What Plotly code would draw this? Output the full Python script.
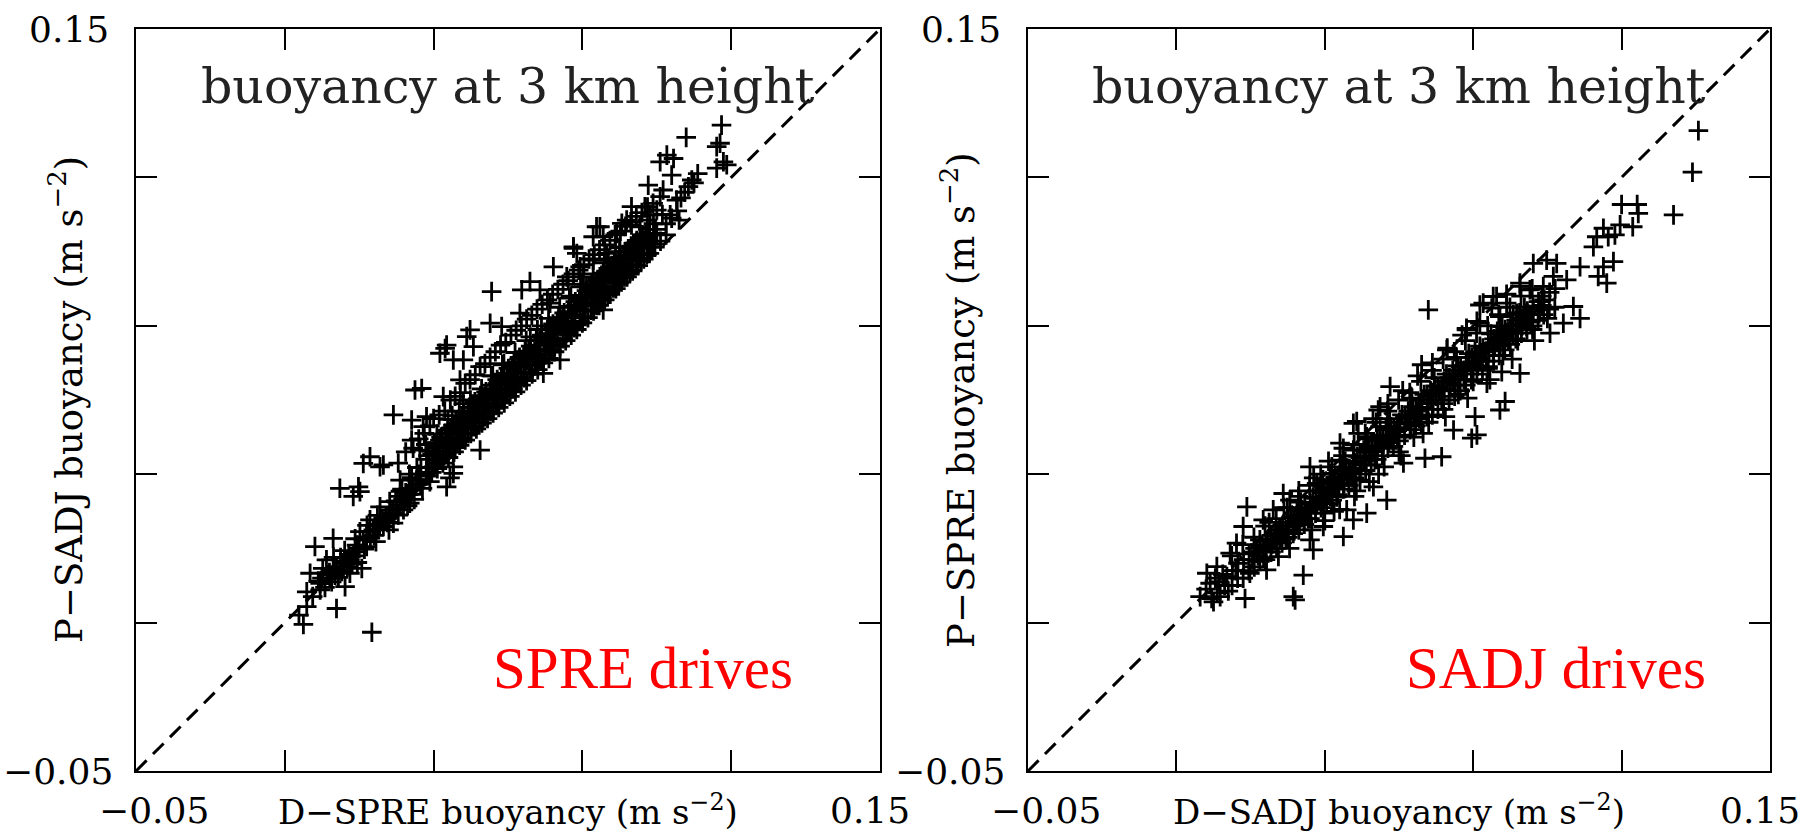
import plotly.graph_objects as go

# ---------------- data ----------------
axis_range = [-0.05, 0.15]          # both axes, both panels
one_to_one = [-0.05, 0.15]          # dashed 1:1 reference line
tick_labels = ["\u22120.05", "0.15"]

# Left panel: x = D-SPRE buoyancy, y = P-SADJ buoyancy
spre_drives_points = [
    (0.0134, -0.0126), (-0.0050, -0.0105), (-0.0062, -0.0080), (-0.0041, -0.0057), (0.0039, -0.0062),
    (-0.0019, 0.0105), (0.0030, 0.0127), (-0.0032, 0.0033), (0.0012, 0.0069), (0.0048, 0.0042),
    (0.0062, -0.0003), (0.0107, 0.0046), (-0.0005, 0.0006), (0.0021, 0.0019), (0.0057, 0.0060),
    (0.0075, 0.0069), (0.0093, 0.0109), (0.0111, 0.0123), (0.0129, 0.0177), (0.0138, 0.0150),
    (0.0165, 0.0159), (0.0192, 0.0168), (0.0156, 0.0212), (0.0219, 0.0204), (0.0048, 0.0262),
    (0.0098, 0.0266), (0.0084, 0.0240), (0.0111, 0.0329), (0.0165, 0.0325), (0.0353, 0.0302),
    (0.0210, 0.0284), (0.0245, 0.0257), (0.0281, 0.0302), (0.0236, 0.0222), (0.0183, 0.0204),
    (-0.0041, -0.0017), (-0.0005, -0.0012), (0.0039, 0.0051), (0.0075, 0.0033), (0.0102, 0.0145),
    (0.0210, 0.0240), (0.0254, 0.0284), (0.0300, 0.0320), (0.0335, 0.0266),
    (0.0020, 0.0035), (0.0035, 0.0028), (0.0050, 0.0075), (0.0068, 0.0050), (0.0085, 0.0080),
    (0.0095, 0.0062), (0.0120, 0.0105), (0.0130, 0.0128), (0.0145, 0.0118), (0.0155, 0.0165),
    (0.0172, 0.0188), (0.0180, 0.0150), (0.0198, 0.0228), (0.0205, 0.0190), (0.0225, 0.0250),
    (0.0230, 0.0215), (0.0248, 0.0232), (0.0260, 0.0300), (0.0270, 0.0262), (0.0290, 0.0280),
    (0.0000, 0.0020), (0.0002, 0.0046), (0.0030, 0.0040), (0.0031, 0.0076), (0.0060, 0.0066),
    (0.0061, 0.0094), (0.0090, 0.0091), (0.0089, 0.0126), (0.0120, 0.0131), (0.0121, 0.0162),
    (0.0150, 0.0151), (0.0149, 0.0189), (0.0180, 0.0181), (0.0182, 0.0226), (0.0210, 0.0216),
    (0.0211, 0.0254), (0.0240, 0.0246), (0.0241, 0.0291), (0.0265, 0.0273), (0.0266, 0.0318),
    (-0.0025, -0.0030), (-0.0010, 0.0012), (0.0008, -0.0005), (0.0015, 0.0028), (0.0026, 0.0010),
    (0.0044, 0.0022), (0.0053, 0.0038), (0.0072, 0.0084), (0.0081, 0.0058), (0.0100, 0.0100),
    (0.0114, 0.0098), (0.0126, 0.0146), (0.0140, 0.0135), (0.0162, 0.0176), (0.0176, 0.0170),
    (0.0190, 0.0196), (0.0200, 0.0208), (0.0218, 0.0232), (0.0234, 0.0262), (0.0252, 0.0270),
    (0.0192, 0.0460), (0.0250, 0.0527), (0.0268, 0.0531), (0.0129, 0.0347), (0.0156, 0.0320),
    (0.0102, 0.0253), (0.0241, 0.0446), (0.0281, 0.0455), (0.0272, 0.0428), (0.0241, 0.0392),
    (0.0263, 0.0365), (0.0344, 0.0290), (0.0425, 0.0365), (0.0353, 0.0320), (0.0335, 0.0648),
    (0.0380, 0.0608), (0.0317, 0.0626), (0.0371, 0.0554), (0.0326, 0.0509), (0.0407, 0.0644),
    (0.0456, 0.0792), (0.0559, 0.0819), (0.0537, 0.0797), (0.0676, 0.0909), (0.0685, 0.0895),
    (0.0622, 0.0859), (0.0738, 0.0967), (0.0806, 0.0976), (0.0756, 0.0940), (0.0452, 0.0707),
    (0.0483, 0.0698), (0.0398, 0.0689), (0.0389, 0.0671), (0.0331, 0.0639), (0.0353, 0.0608),
    (0.0532, 0.0734), (0.0586, 0.0797), (0.0613, 0.0761), (0.0703, 0.0832), (0.0756, 0.0743),
    (0.0640, 0.0608), (0.0595, 0.0572), (0.0819, 0.0850),
    (0.0280, 0.0295), (0.0281, 0.0340), (0.0279, 0.0380), (0.0295, 0.0305), (0.0296, 0.0355),
    (0.0310, 0.0315), (0.0311, 0.0362), (0.0309, 0.0408), (0.0325, 0.0330), (0.0326, 0.0378),
    (0.0340, 0.0345), (0.0341, 0.0398), (0.0339, 0.0448), (0.0355, 0.0360), (0.0356, 0.0412),
    (0.0370, 0.0378), (0.0371, 0.0425), (0.0369, 0.0470), (0.0385, 0.0392), (0.0386, 0.0440),
    (0.0400, 0.0410), (0.0401, 0.0452), (0.0399, 0.0500), (0.0415, 0.0422), (0.0416, 0.0470),
    (0.0430, 0.0438), (0.0431, 0.0482), (0.0429, 0.0530), (0.0445, 0.0450), (0.0446, 0.0500),
    (0.0460, 0.0465), (0.0461, 0.0512), (0.0459, 0.0565), (0.0475, 0.0480), (0.0476, 0.0528),
    (0.0490, 0.0492), (0.0491, 0.0545), (0.0489, 0.0598), (0.0505, 0.0510), (0.0506, 0.0560),
    (0.0520, 0.0522), (0.0521, 0.0572), (0.0519, 0.0628), (0.0535, 0.0540), (0.0536, 0.0590),
    (0.0550, 0.0552), (0.0551, 0.0605), (0.0549, 0.0660), (0.0565, 0.0570), (0.0566, 0.0620),
    (0.0580, 0.0582), (0.0581, 0.0635), (0.0579, 0.0690), (0.0595, 0.0600), (0.0596, 0.0652),
    (0.0610, 0.0612), (0.0611, 0.0665), (0.0609, 0.0720), (0.0625, 0.0630), (0.0626, 0.0680),
    (0.0640, 0.0645), (0.0641, 0.0698), (0.0639, 0.0750), (0.0655, 0.0660), (0.0656, 0.0712),
    (0.0670, 0.0675), (0.0671, 0.0728), (0.0669, 0.0780), (0.0685, 0.0690), (0.0686, 0.0745),
    (0.0700, 0.0708), (0.0701, 0.0760), (0.0699, 0.0812), (0.0715, 0.0722), (0.0716, 0.0775),
    (0.0730, 0.0740), (0.0731, 0.0792), (0.0729, 0.0840), (0.0745, 0.0755), (0.0746, 0.0808),
    (0.0760, 0.0770), (0.0761, 0.0822), (0.0759, 0.0870), (0.0775, 0.0785), (0.0776, 0.0838),
    (0.0790, 0.0800), (0.0791, 0.0852), (0.0789, 0.0900), (0.0805, 0.0818), (0.0806, 0.0868),
    (0.0820, 0.0832), (0.0821, 0.0885), (0.0835, 0.0848), (0.0836, 0.0900), (0.0850, 0.0862),
    (0.0851, 0.0915), (0.0865, 0.0880), (0.0866, 0.0930), (0.0880, 0.0895), (0.0881, 0.0945),
    (0.0895, 0.0912), (0.0896, 0.0960), (0.0910, 0.0928), (0.0925, 0.0945),
    (0.0288, 0.0318), (0.0288, 0.0362), (0.0303, 0.0330), (0.0302, 0.0385), (0.0318, 0.0342),
    (0.0317, 0.0392), (0.0333, 0.0355), (0.0332, 0.0410), (0.0348, 0.0370), (0.0347, 0.0425),
    (0.0363, 0.0382), (0.0362, 0.0438), (0.0378, 0.0398), (0.0377, 0.0452), (0.0393, 0.0410),
    (0.0392, 0.0470), (0.0408, 0.0428), (0.0407, 0.0480), (0.0423, 0.0440), (0.0422, 0.0495),
    (0.0438, 0.0455), (0.0437, 0.0510), (0.0453, 0.0470), (0.0452, 0.0528), (0.0468, 0.0485),
    (0.0467, 0.0540), (0.0483, 0.0500), (0.0482, 0.0558), (0.0498, 0.0515), (0.0497, 0.0572),
    (0.0513, 0.0530), (0.0512, 0.0588), (0.0528, 0.0545), (0.0527, 0.0602), (0.0543, 0.0560),
    (0.0542, 0.0618), (0.0558, 0.0575), (0.0557, 0.0632), (0.0573, 0.0592), (0.0572, 0.0648),
    (0.0588, 0.0605), (0.0587, 0.0662), (0.0603, 0.0622), (0.0602, 0.0678), (0.0618, 0.0635),
    (0.0617, 0.0692), (0.0633, 0.0652), (0.0632, 0.0708), (0.0648, 0.0665), (0.0647, 0.0722),
    (0.0663, 0.0682), (0.0662, 0.0738), (0.0678, 0.0695), (0.0677, 0.0752), (0.0693, 0.0712),
    (0.0692, 0.0768), (0.0708, 0.0725), (0.0707, 0.0782), (0.0723, 0.0742), (0.0722, 0.0798),
    (0.0738, 0.0755), (0.0737, 0.0812), (0.0753, 0.0772), (0.0752, 0.0828), (0.0768, 0.0785),
    (0.0767, 0.0842), (0.0783, 0.0802), (0.0782, 0.0858), (0.0798, 0.0815), (0.0797, 0.0872),
    (0.0813, 0.0832), (0.0812, 0.0888), (0.0828, 0.0845), (0.0827, 0.0902), (0.0843, 0.0862),
    (0.0842, 0.0918), (0.0858, 0.0875), (0.0857, 0.0930), (0.0873, 0.0892), (0.0872, 0.0945),
    (0.0205, 0.0330), (0.0225, 0.0360), (0.0245, 0.0370), (0.0260, 0.0395), (0.0275, 0.0410),
    (0.0290, 0.0430), (0.0300, 0.0450), (0.0315, 0.0460), (0.0330, 0.0470), (0.0345, 0.0500),
    (0.0358, 0.0510), (0.0372, 0.0520), (0.0385, 0.0545), (0.0398, 0.0555), (0.0412, 0.0568),
    (0.0425, 0.0590), (0.0438, 0.0598), (0.0452, 0.0615), (0.0466, 0.0630), (0.0480, 0.0648),
    (0.0494, 0.0655), (0.0508, 0.0675), (0.0522, 0.0688), (0.0536, 0.0700), (0.0550, 0.0718),
    (0.0564, 0.0728), (0.0578, 0.0745), (0.0592, 0.0758), (0.0606, 0.0770), (0.0620, 0.0785),
    (0.0634, 0.0798), (0.0648, 0.0812), (0.0662, 0.0822), (0.0676, 0.0840), (0.0690, 0.0850),
    (0.0704, 0.0865), (0.0718, 0.0880), (0.0732, 0.0892), (0.0746, 0.0905), (0.0760, 0.0918),
    (0.0774, 0.0930), (0.0788, 0.0945), (0.0802, 0.0955), (0.0816, 0.0968), (0.0830, 0.0980),
    (0.0845, 0.0995), (0.0860, 0.1005), (0.0875, 0.1020), (0.0890, 0.1030),
    (0.0215, 0.0260), (0.0235, 0.0300), (0.0255, 0.0318), (0.0285, 0.0350), (0.0305, 0.0372),
    (0.0322, 0.0395), (0.0338, 0.0418), (0.0352, 0.0432), (0.0368, 0.0448), (0.0382, 0.0465),
    (0.0396, 0.0480), (0.0411, 0.0495), (0.0426, 0.0512), (0.0441, 0.0522), (0.0456, 0.0540),
    (0.0471, 0.0555), (0.0486, 0.0570), (0.0501, 0.0585), (0.0516, 0.0600), (0.0531, 0.0615),
    (0.0546, 0.0630), (0.0561, 0.0645), (0.0576, 0.0660), (0.0591, 0.0675), (0.0606, 0.0690),
    (0.0621, 0.0705), (0.0636, 0.0722), (0.0651, 0.0735), (0.0666, 0.0752), (0.0681, 0.0765),
    (0.0696, 0.0782), (0.0711, 0.0795), (0.0726, 0.0812), (0.0741, 0.0825), (0.0756, 0.0842),
    (0.0771, 0.0855), (0.0786, 0.0870), (0.0801, 0.0885), (0.0816, 0.0900), (0.0831, 0.0915),
    (0.0846, 0.0930), (0.0861, 0.0945), (0.0876, 0.0960), (0.0891, 0.0975),
    (0.0305, 0.0338), (0.0320, 0.0400), (0.0335, 0.0385), (0.0350, 0.0458), (0.0365, 0.0398),
    (0.0380, 0.0490), (0.0395, 0.0445), (0.0410, 0.0440), (0.0425, 0.0505), (0.0440, 0.0490),
    (0.0455, 0.0565), (0.0470, 0.0502), (0.0485, 0.0595), (0.0500, 0.0550), (0.0515, 0.0545),
    (0.0530, 0.0610), (0.0545, 0.0595), (0.0560, 0.0670), (0.0575, 0.0608), (0.0590, 0.0700),
    (0.0605, 0.0655), (0.0620, 0.0650), (0.0635, 0.0715), (0.0650, 0.0700), (0.0665, 0.0775),
    (0.0680, 0.0712), (0.0695, 0.0805), (0.0710, 0.0760), (0.0725, 0.0755), (0.0740, 0.0820),
    (0.0755, 0.0805), (0.0770, 0.0880), (0.0785, 0.0815), (0.0800, 0.0910), (0.0815, 0.0865),
    (0.0830, 0.0860), (0.0845, 0.0925), (0.0860, 0.0910), (0.0875, 0.0985), (0.0890, 0.0920),
    (0.0312, 0.0350), (0.0342, 0.0372), (0.0372, 0.0440), (0.0402, 0.0428), (0.0432, 0.0468),
    (0.0462, 0.0530), (0.0492, 0.0520), (0.0522, 0.0560), (0.0552, 0.0622), (0.0582, 0.0612),
    (0.0612, 0.0650), (0.0642, 0.0712), (0.0672, 0.0702), (0.0702, 0.0740), (0.0732, 0.0802),
    (0.0762, 0.0792), (0.0792, 0.0830), (0.0822, 0.0892), (0.0852, 0.0882), (0.0882, 0.0920),
    (0.0262, 0.0285), (0.0232, 0.0245), (0.0202, 0.0225), (0.0172, 0.0178), (0.0142, 0.0160),
    (0.0358, 0.0372), (0.0383, 0.0430), (0.0408, 0.0462), (0.0433, 0.0452), (0.0458, 0.0520),
    (0.0483, 0.0545), (0.0508, 0.0530), (0.0533, 0.0598), (0.0558, 0.0622), (0.0583, 0.0608),
    (0.0608, 0.0678), (0.0633, 0.0700), (0.0658, 0.0685), (0.0683, 0.0755), (0.0708, 0.0778),
    (0.0733, 0.0762), (0.0758, 0.0830), (0.0783, 0.0855), (0.0808, 0.0840), (0.0833, 0.0905),
    (0.0858, 0.0925), (0.0883, 0.0912),
    (0.0348, 0.0395), (0.0373, 0.0408), (0.0398, 0.0470), (0.0423, 0.0482), (0.0448, 0.0478),
    (0.0473, 0.0545), (0.0498, 0.0560), (0.0523, 0.0555), (0.0548, 0.0622), (0.0573, 0.0635),
    (0.0598, 0.0632), (0.0623, 0.0698), (0.0648, 0.0712), (0.0673, 0.0708), (0.0698, 0.0775),
    (0.0723, 0.0790), (0.0748, 0.0785), (0.0773, 0.0850), (0.0798, 0.0865), (0.0823, 0.0862),
    (0.0848, 0.0925), (0.0873, 0.0940),
    (0.0940, 0.0990), (0.0955, 0.1010), (0.0965, 0.1045), (0.0975, 0.1060), (0.0985, 0.1075),
    (0.1000, 0.1085), (0.1010, 0.1110), (0.0960, 0.0985), (0.0925, 0.0975), (0.0915, 0.1000),
    (0.1074, 0.1241), (0.1070, 0.1192), (0.1061, 0.1183), (0.1079, 0.1142), (0.1061, 0.1125),
    (0.1088, 0.1134), (0.0979, 0.1208), (0.0927, 0.1160), (0.0909, 0.1142), (0.0945, 0.1151),
    (0.0994, 0.1093), (0.0940, 0.1106), (0.0877, 0.1079), (0.0917, 0.1066), (0.0909, 0.1048),
    (0.0953, 0.1039), (0.0868, 0.1021), (0.0832, 0.1021), (0.0900, 0.1012), (0.0882, 0.0999),
    (0.0936, 0.0999), (0.0819, 0.0985), (0.0832, 0.0972), (0.0855, 0.0967), (0.0747, 0.0967),
    (0.0900, 0.0949), (0.0873, 0.0940), (0.0792, 0.0949), (0.0837, 0.0922), (0.0801, 0.0913),
    (0.0676, 0.0913), (0.0729, 0.0940), (0.0765, 0.0895), (0.0846, 0.0877), (0.0729, 0.0877),
    (0.0694, 0.0859), (0.0774, 0.0859), (0.0747, 0.0832), (0.0658, 0.0832),
    (0.0711, 0.0805), (0.0783, 0.0805), (0.0739, 0.0779),
]

# Right panel: x = D-SADJ buoyancy, y = P-SPRE buoyancy
sadj_drives_points = [
    (0.1307, 0.1226), (0.1291, 0.1114), (0.1240, 0.0999), (0.1100, 0.1027), (0.1142, 0.1027),
    (0.1145, 0.1003), (0.1130, 0.0967), (0.1096, 0.0972), (0.1051, 0.0963), (0.1064, 0.0940),
    (0.1082, 0.0945), (0.1033, 0.0940), (0.1024, 0.0913), (0.1078, 0.0873), (0.1051, 0.0859),
    (0.1060, 0.0815), (0.1037, 0.0833), (0.0988, 0.0859), (0.0925, 0.0868), (0.0898, 0.0877),
    (0.0916, 0.0833), (0.0952, 0.0824), (0.0889, 0.0806), (0.0853, 0.0797), (0.0826, 0.0806),
    (0.0970, 0.0752), (0.0988, 0.0720), (0.0943, 0.0707), (0.0880, 0.0743), (0.0790, 0.0761),
    (0.0763, 0.0779), (0.0727, 0.0761), (0.0817, 0.0734), (0.0772, 0.0725), (0.0718, 0.0707),
    (0.0682, 0.0689), (0.0844, 0.0698), (0.0907, 0.0680),
    (0.0579, 0.0743), (0.0718, 0.0756), (0.0754, 0.0779), (0.0826, 0.0815), (0.0862, 0.0868),
    (0.0682, 0.0693), (0.0629, 0.0635), (0.0561, 0.0595), (0.0476, 0.0536), (0.0386, 0.0442),
    (0.0341, 0.0384), (0.0444, 0.0473), (0.0826, 0.0572), (0.0777, 0.0576), (0.0772, 0.0473),
    (0.0786, 0.0496), (0.0705, 0.0455), (0.0696, 0.0397), (0.0710, 0.0406), (0.0570, 0.0343),
    (0.0615, 0.0347), (0.0512, 0.0330), (0.0647, 0.0419), (0.0737, 0.0545), (0.0754, 0.0635),
    (0.0808, 0.0680), (0.0844, 0.0734),
    (0.0085, -0.0035), (0.0215, -0.0030), (0.0220, -0.0039), (0.0242, 0.0028), (0.0018, -0.0030),
    (-0.0009, 0.0006), (-0.0018, 0.0033), (0.0009, 0.0051), (0.0045, 0.0087), (0.0090, 0.0212),
    (0.0080, 0.0159), (0.0143, 0.0042), (0.0098, 0.0033), (0.0175, 0.0078), (0.0269, 0.0096),
    (0.0350, 0.0132), (0.0260, 0.0123), (0.0188, 0.0248), (0.0260, 0.0320), (0.0297, 0.0195),
    (0.0413, 0.0195), (0.0377, 0.0177), (0.0467, 0.0230), (0.0431, 0.0266), (0.0377, 0.0437),
    (0.0449, 0.0482), (0.0125, 0.0123), (0.0062, 0.0114), (0.0134, 0.0177), (0.0179, 0.0150),
    (0.0224, 0.0168), (0.0206, 0.0230), (0.0278, 0.0275), (0.0314, 0.0302), (0.0341, 0.0338),
    (0.0377, 0.0365), (0.0413, 0.0401), (0.0449, 0.0428), (0.0332, 0.0239), (0.0395, 0.0284),
    (0.0359, 0.0204), (0.0296, 0.0159), (0.0161, 0.0204), (0.0116, 0.0087), (0.0036, 0.0024),
    (-0.0036, -0.0030), (0.0000, -0.0044), (0.0030, 0.0000), (-0.0020, -0.0010),
    (0.0010, -0.0020), (0.0025, 0.0030), (-0.0005, -0.0035), (0.0040, -0.0015), (0.0015, 0.0010),
    (0.0060, 0.0040), (0.0005, 0.0020),
    (0.0050, 0.0000), (0.0051, 0.0040), (0.0049, 0.0080), (0.0080, 0.0020), (0.0081, 0.0070),
    (0.0079, 0.0110), (0.0110, 0.0050), (0.0111, 0.0090), (0.0109, 0.0130), (0.0140, 0.0070),
    (0.0141, 0.0120), (0.0139, 0.0160), (0.0170, 0.0100), (0.0171, 0.0140), (0.0169, 0.0180),
    (0.0200, 0.0130), (0.0201, 0.0170), (0.0199, 0.0210), (0.0230, 0.0150), (0.0231, 0.0190),
    (0.0229, 0.0240), (0.0260, 0.0180), (0.0261, 0.0220), (0.0259, 0.0270), (0.0290, 0.0210),
    (0.0291, 0.0250), (0.0289, 0.0300), (0.0320, 0.0230), (0.0321, 0.0280), (0.0319, 0.0320),
    (0.0350, 0.0260), (0.0351, 0.0300), (0.0349, 0.0350), (0.0380, 0.0290), (0.0381, 0.0330),
    (0.0379, 0.0380), (0.0410, 0.0310), (0.0411, 0.0360), (0.0409, 0.0410), (0.0440, 0.0340),
    (0.0441, 0.0390), (0.0439, 0.0440), (0.0470, 0.0370), (0.0471, 0.0420), (0.0469, 0.0470),
    (0.0500, 0.0390), (0.0501, 0.0440), (0.0499, 0.0500), (0.0530, 0.0420), (0.0531, 0.0470),
    (0.0529, 0.0520), (0.0560, 0.0440), (0.0561, 0.0500), (0.0559, 0.0550), (0.0590, 0.0460),
    (0.0591, 0.0520), (0.0589, 0.0580), (0.0620, 0.0490), (0.0621, 0.0550), (0.0619, 0.0610),
    (0.0650, 0.0510), (0.0651, 0.0570), (0.0649, 0.0630), (0.0680, 0.0540), (0.0681, 0.0600),
    (0.0679, 0.0660), (0.0710, 0.0570), (0.0711, 0.0620), (0.0709, 0.0680), (0.0740, 0.0590),
    (0.0741, 0.0650), (0.0739, 0.0700), (0.0770, 0.0620), (0.0771, 0.0670), (0.0769, 0.0730),
    (0.0800, 0.0650), (0.0801, 0.0700), (0.0799, 0.0750), (0.0830, 0.0680), (0.0831, 0.0720),
    (0.0829, 0.0780), (0.0860, 0.0700), (0.0861, 0.0750), (0.0859, 0.0800), (0.0890, 0.0730),
    (0.0891, 0.0770), (0.0920, 0.0750), (0.0921, 0.0800),
    (0.0065, 0.0020), (0.0066, 0.0060), (0.0095, 0.0040), (0.0096, 0.0085), (0.0125, 0.0065),
    (0.0126, 0.0110), (0.0155, 0.0090), (0.0156, 0.0135), (0.0185, 0.0115), (0.0186, 0.0160),
    (0.0215, 0.0140), (0.0216, 0.0185), (0.0245, 0.0165), (0.0246, 0.0210), (0.0275, 0.0195),
    (0.0276, 0.0235), (0.0305, 0.0220), (0.0306, 0.0265), (0.0335, 0.0245), (0.0336, 0.0290),
    (0.0365, 0.0270), (0.0366, 0.0315), (0.0395, 0.0300), (0.0396, 0.0345), (0.0425, 0.0325),
    (0.0426, 0.0370), (0.0455, 0.0350), (0.0456, 0.0400), (0.0485, 0.0375), (0.0486, 0.0425),
    (0.0515, 0.0405), (0.0516, 0.0455), (0.0545, 0.0430), (0.0546, 0.0480), (0.0575, 0.0455),
    (0.0576, 0.0510), (0.0605, 0.0475), (0.0606, 0.0535), (0.0635, 0.0500), (0.0636, 0.0560),
    (0.0665, 0.0525), (0.0666, 0.0590), (0.0695, 0.0555), (0.0696, 0.0615), (0.0725, 0.0580),
    (0.0726, 0.0640), (0.0755, 0.0605), (0.0756, 0.0665), (0.0785, 0.0635), (0.0786, 0.0690),
    (0.0815, 0.0665), (0.0816, 0.0715), (0.0845, 0.0690), (0.0846, 0.0740), (0.0875, 0.0715),
    (0.0876, 0.0765), (0.0905, 0.0745), (0.0906, 0.0790),
    (0.0205, 0.0100), (0.0265, 0.0150), (0.0325, 0.0200), (0.0385, 0.0255), (0.0445, 0.0300),
    (0.0505, 0.0350), (0.0565, 0.0410), (0.0625, 0.0455), (0.0685, 0.0505), (0.0745, 0.0555),
    (0.0805, 0.0610), (0.0865, 0.0660), (0.0235, 0.0225), (0.0295, 0.0285), (0.0355, 0.0335),
    (0.0415, 0.0395), (0.0475, 0.0450), (0.0535, 0.0505), (0.0595, 0.0560), (0.0655, 0.0615),
    (0.0300, 0.0175), (0.0340, 0.0205), (0.0380, 0.0240), (0.0420, 0.0280), (0.0460, 0.0320),
    (0.0500, 0.0360), (0.0540, 0.0400), (0.0580, 0.0440), (0.0620, 0.0475), (0.0660, 0.0515),
    (0.0700, 0.0550), (0.0740, 0.0585), (0.0780, 0.0620), (0.0820, 0.0660), (0.0860, 0.0690),
    (0.0900, 0.0720),
    (0.0150, 0.0170), (0.0190, 0.0210), (0.0230, 0.0255), (0.0270, 0.0290), (0.0310, 0.0335),
    (0.0350, 0.0370), (0.0390, 0.0410), (0.0430, 0.0450), (0.0470, 0.0490), (0.0510, 0.0525),
    (0.0550, 0.0565), (0.0590, 0.0600), (0.0630, 0.0640), (0.0670, 0.0675), (0.0710, 0.0712),
    (0.0750, 0.0748), (0.0790, 0.0785),
    (0.0135, 0.0095), (0.0165, 0.0120), (0.0195, 0.0150), (0.0225, 0.0175), (0.0255, 0.0200),
    (0.0285, 0.0230), (0.0315, 0.0255), (0.0345, 0.0285), (0.0375, 0.0310), (0.0405, 0.0335),
    (0.0435, 0.0365), (0.0465, 0.0395), (0.0495, 0.0420), (0.0525, 0.0450), (0.0555, 0.0475),
    (0.0585, 0.0500), (0.0615, 0.0530), (0.0645, 0.0555), (0.0675, 0.0580), (0.0705, 0.0605),
    (0.0735, 0.0632), (0.0765, 0.0655), (0.0795, 0.0685), (0.0825, 0.0705), (0.0855, 0.0730),
    (0.0885, 0.0755),
    (0.0120, 0.0080), (0.0180, 0.0128), (0.0240, 0.0185), (0.0300, 0.0240), (0.0360, 0.0295),
    (0.0420, 0.0348), (0.0480, 0.0405), (0.0540, 0.0458), (0.0600, 0.0510), (0.0660, 0.0565),
    (0.0720, 0.0612), (0.0780, 0.0665), (0.0840, 0.0712),
    (0.0105, 0.0070), (0.0135, 0.0075), (0.0165, 0.0135), (0.0195, 0.0125), (0.0225, 0.0200),
    (0.0255, 0.0180), (0.0285, 0.0255), (0.0315, 0.0240), (0.0345, 0.0310), (0.0375, 0.0290),
    (0.0405, 0.0365), (0.0435, 0.0340), (0.0465, 0.0420), (0.0495, 0.0400), (0.0525, 0.0470),
    (0.0555, 0.0450), (0.0585, 0.0525), (0.0615, 0.0500), (0.0645, 0.0580), (0.0675, 0.0555),
    (0.0705, 0.0630), (0.0735, 0.0605), (0.0765, 0.0685), (0.0795, 0.0660), (0.0825, 0.0735),
    (0.0855, 0.0710), (0.0885, 0.0780),
    (0.0112, 0.0100), (0.0142, 0.0105), (0.0172, 0.0120), (0.0202, 0.0160), (0.0232, 0.0165),
    (0.0262, 0.0205), (0.0292, 0.0225), (0.0322, 0.0265), (0.0352, 0.0275), (0.0382, 0.0315),
    (0.0412, 0.0325), (0.0442, 0.0375), (0.0472, 0.0385), (0.0502, 0.0425), (0.0532, 0.0435),
    (0.0562, 0.0480), (0.0592, 0.0490), (0.0622, 0.0530), (0.0652, 0.0540), (0.0682, 0.0585),
    (0.0712, 0.0592), (0.0742, 0.0635), (0.0772, 0.0645), (0.0802, 0.0690), (0.0832, 0.0700),
    (0.0862, 0.0740),
    (0.0158, 0.0112), (0.0188, 0.0145), (0.0218, 0.0160), (0.0248, 0.0195), (0.0278, 0.0218),
    (0.0308, 0.0250), (0.0338, 0.0270), (0.0368, 0.0305), (0.0398, 0.0325), (0.0428, 0.0360),
    (0.0458, 0.0380), (0.0488, 0.0415), (0.0518, 0.0440), (0.0548, 0.0470), (0.0578, 0.0490),
    (0.0608, 0.0525), (0.0638, 0.0545), (0.0668, 0.0578), (0.0698, 0.0598), (0.0728, 0.0630),
    (0.0758, 0.0650), (0.0788, 0.0682), (0.0818, 0.0700), (0.0848, 0.0732), (0.0878, 0.0750),
    (0.0148, 0.0125), (0.0178, 0.0150), (0.0208, 0.0182), (0.0238, 0.0205), (0.0268, 0.0238),
    (0.0298, 0.0262), (0.0328, 0.0292), (0.0358, 0.0318), (0.0388, 0.0348), (0.0418, 0.0372),
    (0.0448, 0.0405), (0.0478, 0.0428), (0.0508, 0.0460), (0.0538, 0.0482), (0.0568, 0.0515),
    (0.0598, 0.0538), (0.0628, 0.0570), (0.0658, 0.0592), (0.0688, 0.0625), (0.0718, 0.0645),
    (0.0748, 0.0678), (0.0778, 0.0698), (0.0808, 0.0730), (0.0838, 0.0750),
]

# ---------------- figure ----------------
W, H = 1808, 835
BLACK_FONT = "DejaVu Serif"


def px_x(px):
    return px / W


def px_y(py):
    return 1 - py / H


panels = [
    dict(points=spre_drives_points, xa="x", ya="y", left=136, right=880,
         xtitle="D\u2212SPRE buoyancy (m s<sup>\u22122</sup>)",
         ytitle="P\u2212SADJ buoyancy (m s<sup>\u22122</sup>)",
         tag="SPRE drives", tag_cx=643),
    dict(points=sadj_drives_points, xa="x2", ya="y2", left=1028, right=1770,
         xtitle="D\u2212SADJ buoyancy (m s<sup>\u22122</sup>)",
         ytitle="P\u2212SPRE buoyancy (m s<sup>\u22122</sup>)",
         tag="SADJ drives", tag_cx=1556),
]

fig = go.Figure()
annotations = []
axis_common = dict(
    range=axis_range, showgrid=False, zeroline=False,
    showline=True, linecolor="black", linewidth=2, mirror="ticks",
    ticks="inside", ticklen=21, tickwidth=1.5, tickcolor="black",
    tick0=-0.05, dtick=0.04, showticklabels=False,
)
TOP, BOTTOM = 29, 771

for i, p in enumerate(panels):
    xs = [pt[0] for pt in p["points"]]
    ys = [pt[1] for pt in p["points"]]
    fig.add_trace(go.Scatter(
        x=one_to_one, y=one_to_one, mode="lines",
        line=dict(color="black", width=3, dash="15px,9px"),
        xaxis=p["xa"], yaxis=p["ya"], hoverinfo="skip"))
    fig.add_trace(go.Scatter(
        x=xs, y=ys, mode="markers",
        marker=dict(symbol="cross-thin", size=14, color="black",
                    line=dict(color="black", width=2.8)),
        xaxis=p["xa"], yaxis=p["ya"]))

    sfx = "" if i == 0 else "2"
    fig.layout["xaxis" + sfx] = dict(axis_common, domain=[px_x(p["left"]), px_x(p["right"])],
                                      anchor="y" + sfx)
    fig.layout["yaxis" + sfx] = dict(axis_common, domain=[px_y(BOTTOM), px_y(TOP)],
                                      anchor="x" + sfx)

    tf = dict(family=BLACK_FONT, size=36, color="black")
    xt = dict(family=BLACK_FONT, size=34, color="black")
    yt = dict(family=BLACK_FONT, size=37, color="black")
    # y tick labels
    annotations.append(dict(text=tick_labels[1], xref="paper", x=px_x(p["left"] - 25),
                            yref=p["ya"], y=axis_range[1], xanchor="right", yanchor="middle",
                            showarrow=False, font=tf))
    annotations.append(dict(text=tick_labels[0], xref="paper", x=px_x(p["left"] - 21),
                            yref=p["ya"], y=axis_range[0], xanchor="right", yanchor="middle",
                            showarrow=False, font=tf))
    # x tick labels
    annotations.append(dict(text=tick_labels[0], xref=p["xa"], x=axis_range[0], xshift=18,
                            yref="paper", y=0, yshift=2, xanchor="center", yanchor="bottom",
                            showarrow=False, font=tf))
    annotations.append(dict(text=tick_labels[1], xref=p["xa"], x=axis_range[1], xshift=-10,
                            yref="paper", y=0, yshift=2, xanchor="center", yanchor="bottom",
                            showarrow=False, font=tf))
    # axis titles
    cx = (p["left"] + p["right"]) / 2
    annotations.append(dict(text=p["xtitle"], xref="paper", x=px_x(cx), yref="paper",
                            y=0, yshift=1, xanchor="center", yanchor="bottom",
                            showarrow=False, font=xt))
    annotations.append(dict(text=p["ytitle"], xref="paper", x=px_x(p["left"] - 70),
                            yref="paper", y=px_y((TOP + BOTTOM) / 2), textangle=-90,
                            xanchor="center", yanchor="middle", showarrow=False, font=yt))
    # in-panel title
    annotations.append(dict(text="buoyancy at 3 km height", xref="paper", x=px_x(cx),
                            yref="paper", y=px_y(86), xanchor="center", yanchor="middle",
                            showarrow=False,
                            font=dict(family=BLACK_FONT, size=49, color="#222222")))
    # red label
    annotations.append(dict(text=p["tag"], xref="paper", x=px_x(p["tag_cx"]),
                            yref="paper", y=px_y(668), xanchor="center", yanchor="middle",
                            showarrow=False,
                            font=dict(family="Liberation Serif", size=59, color="#ff0000")))

fig.update_layout(
    width=W, height=H, margin=dict(l=0, r=0, t=0, b=0),
    paper_bgcolor="white", plot_bgcolor="white", showlegend=False,
    annotations=annotations,
)

fig.write_html(
    "out.html",
    config={"displayModeBar": False},
    post_script="document.body.style.margin='0';document.body.style.overflow='hidden';",
)
